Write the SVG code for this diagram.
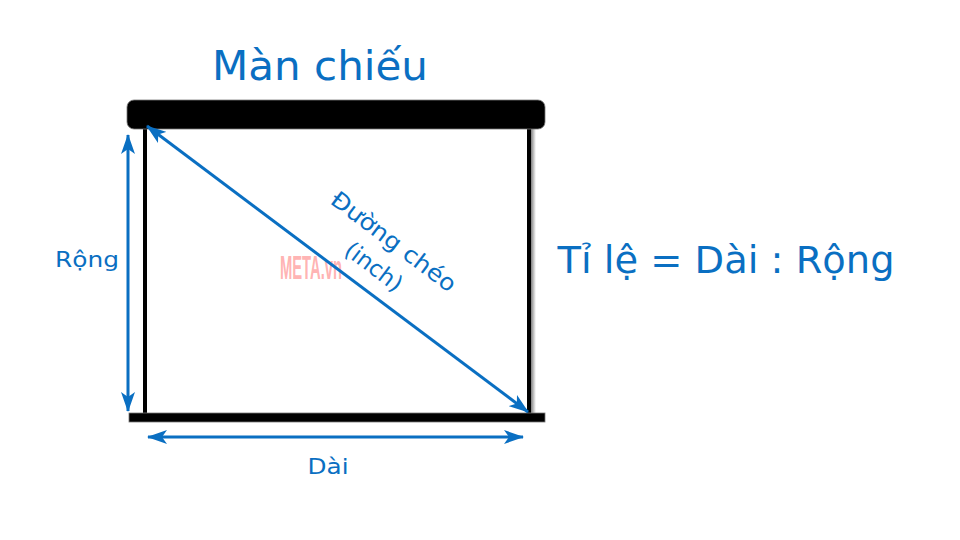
<svg xmlns="http://www.w3.org/2000/svg" width="960" height="540" viewBox="0 0 960 540">
<defs>
<marker id="ah" viewBox="0 0 20 14" refX="19" refY="7" markerWidth="20" markerHeight="14" markerUnits="userSpaceOnUse" orient="auto-start-reverse">
<path d="M0,0 L20,7 L0,14 L5,7 Z" fill="#0a6fc2"/>
</marker>
<linearGradient id="sh" x1="0" x2="1" y1="0" y2="0">
<stop offset="0" stop-color="#000" stop-opacity="0.5"/>
<stop offset="1" stop-color="#000" stop-opacity="0"/>
</linearGradient>
</defs>
<style>
.t{font-family:"DejaVu Sans","Noto Sans",sans-serif;fill:#0a6fc2}
.ar{stroke:#0a6fc2;stroke-width:3;fill:none}
</style>
<rect width="960" height="540" fill="#fff"/>
<g id="screen">
<rect x="145" y="120" width="385" height="295" fill="#fff"/>
<rect x="531" y="126" width="5" height="288" fill="url(#sh)"/>
<rect x="143" y="124" width="4" height="291" fill="#000"/>
<rect x="527" y="124" width="4" height="291" fill="#000"/>
<rect x="127" y="100" width="418" height="29" rx="7" fill="#000" stroke="#777" stroke-width="0.8"/>
<rect x="129" y="413" width="416" height="9" fill="#000" stroke="#777" stroke-width="0.8"/>
</g>
<g id="watermark">
<text x="280" y="279" font-family="'Liberation Sans',sans-serif" font-weight="bold" font-size="33" fill="#ffa0a0" fill-opacity="0.8" textLength="62" lengthAdjust="spacingAndGlyphs">META.vn</text>
</g>
<g id="connectors">
<line class="ar" x1="128" y1="135" x2="128" y2="411" marker-start="url(#ah)" marker-end="url(#ah)"/>
<line class="ar" x1="148" y1="437" x2="523" y2="437" marker-start="url(#ah)" marker-end="url(#ah)"/>
<line class="ar" x1="147" y1="126" x2="528" y2="412" marker-start="url(#ah)" marker-end="url(#ah)"/>
</g>
<g id="labels">
<text class="t" x="320" y="80" font-size="40" text-anchor="middle" textLength="216" lengthAdjust="spacingAndGlyphs">Màn chiếu</text>
<text class="t" x="726" y="273" font-size="37" text-anchor="middle" textLength="337" lengthAdjust="spacingAndGlyphs">Tỉ lệ = Dài : Rộng</text>
<text class="t" x="87" y="267" font-size="22" text-anchor="middle" textLength="64" lengthAdjust="spacingAndGlyphs">Rộng</text>
<text class="t" x="328" y="474" font-size="22" text-anchor="middle" textLength="41" lengthAdjust="spacingAndGlyphs">Dài</text>
<text class="t" font-size="23" text-anchor="middle" transform="translate(389,248) rotate(37)" textLength="150" lengthAdjust="spacingAndGlyphs">Đường chéo</text>
<text class="t" font-size="23" text-anchor="middle" transform="translate(369,273) rotate(37)" textLength="66" lengthAdjust="spacingAndGlyphs">(inch)</text>
</g>
</svg>
